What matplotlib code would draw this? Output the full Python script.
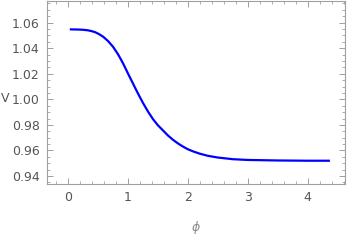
import matplotlib
matplotlib.use("Agg")
import matplotlib.pyplot as plt
from matplotlib.ticker import MultipleLocator

phi = [0.033, 0.15, 0.25, 0.33, 0.40, 0.46, 0.52, 0.59, 0.67, 0.755, 0.84, 0.922, 1.005, 1.088, 1.17, 1.255, 1.34, 1.42, 1.50, 1.588, 1.67, 1.755, 1.84, 1.922, 2.0, 2.088, 2.2, 2.338, 2.5, 2.75, 3.0, 3.5, 4.0, 4.37]
V = [1.0547, 1.0546, 1.0544, 1.0540, 1.0533, 1.0524, 1.0510, 1.0489, 1.0456, 1.0410, 1.0350, 1.0280, 1.0200, 1.0122, 1.0045, 0.9970, 0.9902, 0.9845, 0.9798, 0.9756, 0.9717, 0.9683, 0.9654, 0.9630, 0.9610, 0.9593, 0.9575, 0.9558, 0.9545, 0.9532, 0.9526, 0.9522, 0.9520, 0.9520]

xticks = [0, 1, 2, 3, 4]
yticks = [0.94, 0.96, 0.98, 1.00, 1.02, 1.04, 1.06]

fig = plt.figure(figsize=(3.47, 2.41), dpi=100)
ax = fig.add_axes([0.135, 0.2365, 0.859, 0.76])
ax.plot(phi, V, color="#0000ff", lw=1.6, solid_capstyle="butt", solid_joinstyle="round")

ax.set_xlim(-0.35, 4.62)
ax.set_ylim(0.9338, 1.077)
ax.set_xticks(xticks)
ax.set_yticks(yticks)
ax.set_yticklabels([f"{t:.2f}" for t in yticks])
ax.xaxis.set_minor_locator(MultipleLocator(0.2))
ax.yaxis.set_minor_locator(MultipleLocator(0.005))

frame_c = "#a0a0a0"
for s in ax.spines.values():
    s.set_color(frame_c)
    s.set_linewidth(0.8)
ax.tick_params(which="both", direction="in", top=True, right=True, color=frame_c,
               labelcolor="#555555", labelsize=9)
ax.tick_params(which="major", length=4, width=0.7, pad=5)
ax.tick_params(which="minor", length=2, width=0.6)
ax.tick_params(axis="x", which="both", labeltop=False)
ax.tick_params(axis="y", which="both", labelright=False)

fig.text(5/347, 1-99/241, "V", color="#555555", fontsize=9, ha="center", va="center")
fig.text(196/347, 1-227/241, r"$\phi$", color="#888888", fontsize=9, ha="center", va="center")

fig.savefig("out.png", dpi=100)
